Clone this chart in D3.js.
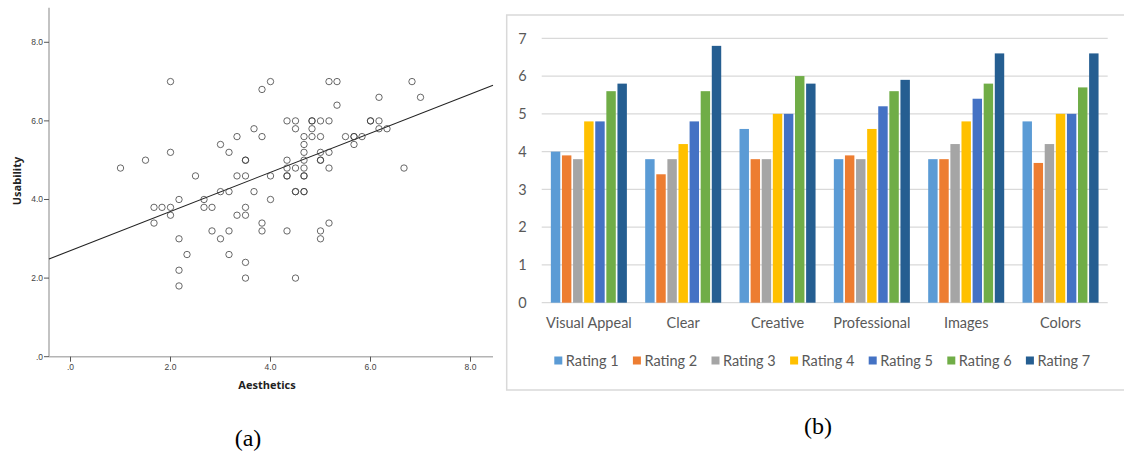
<!DOCTYPE html>
<html>
<head>
<meta charset="utf-8">
<script src="https://cdn.jsdelivr.net/npm/d3@7"></script>
<style>
  body { margin: 0; background: #fff; }
  svg { display: block; }
</style>
</head>
<body>
<div id="chart"></div>
<script>
// ---- data: scatter (a) ----
// aesthetics (x) and usability (y) per participant
var aesthetics = [
  2.0, 4.0, 5.17, 5.33, 6.83,
  3.83,
  6.17, 7.0,
  5.33,
  4.33, 4.5, 4.83, 4.83, 5.0, 5.17, 6.0, 6.0, 6.17,
  3.67, 4.5, 4.83, 6.17, 6.33,
  3.33, 3.83, 4.67, 4.83, 5.0, 5.5, 5.67, 5.67, 5.83,
  3.0, 4.67, 5.67,
  2.0, 3.17, 4.67, 5.0, 5.17,
  1.5, 3.5, 3.5, 4.33, 4.67, 5.0, 5.0,
  1.0, 4.33, 4.5, 4.67, 5.17, 6.67,
  2.5, 3.33, 3.5, 4.0, 4.33, 4.33, 4.67, 4.67,
  3.0, 3.17, 3.67, 4.5, 4.5, 4.67, 4.67,
  2.17, 2.67, 4.0,
  1.67, 1.83, 2.0, 2.67, 2.83, 3.5,
  2.0, 3.33, 3.5,
  1.67, 3.83, 5.17,
  2.83, 3.17, 3.83, 4.33, 5.0,
  2.17, 3.0, 5.0,
  2.33, 3.17,
  3.5,
  2.17,
  3.5, 4.5,
  2.17
];
var usability = [
  7.0, 7.0, 7.0, 7.0, 7.0,
  6.8,
  6.6, 6.6,
  6.4,
  6.0, 6.0, 6.0, 6.0, 6.0, 6.0, 6.0, 6.0, 6.0,
  5.8, 5.8, 5.8, 5.8, 5.8,
  5.6, 5.6, 5.6, 5.6, 5.6, 5.6, 5.6, 5.6, 5.6,
  5.4, 5.4, 5.4,
  5.2, 5.2, 5.2, 5.2, 5.2,
  5.0, 5.0, 5.0, 5.0, 5.0, 5.0, 5.0,
  4.8, 4.8, 4.8, 4.8, 4.8, 4.8,
  4.6, 4.6, 4.6, 4.6, 4.6, 4.6, 4.6, 4.6,
  4.2, 4.2, 4.2, 4.2, 4.2, 4.2, 4.2,
  4.0, 4.0, 4.0,
  3.8, 3.8, 3.8, 3.8, 3.8, 3.8,
  3.6, 3.6, 3.6,
  3.4, 3.4, 3.4,
  3.2, 3.2, 3.2, 3.2, 3.2,
  3.0, 3.0, 3.0,
  2.6, 2.6,
  2.4,
  2.2,
  2.0, 2.0,
  1.8
];
var fitLine = { intercept: 2.70, slope: 0.498 };
var scatterTicks = [0, 2, 4, 6, 8];

// ---- data: bar chart (b) ----
var categories = ["Visual Appeal", "Clear", "Creative", "Professional", "Images", "Colors"];
var ratings = ["Rating 1", "Rating 2", "Rating 3", "Rating 4", "Rating 5", "Rating 6", "Rating 7"];
var rating1 = [4.0, 3.8, 4.6, 3.8, 3.8, 4.8];
var rating2 = [3.9, 3.4, 3.8, 3.9, 3.8, 3.7];
var rating3 = [3.8, 3.8, 3.8, 3.8, 4.2, 4.2];
var rating4 = [4.8, 4.2, 5.0, 4.6, 4.8, 5.0];
var rating5 = [4.8, 4.8, 5.0, 5.2, 5.4, 5.0];
var rating6 = [5.6, 5.6, 6.0, 5.6, 5.8, 5.7];
var rating7 = [5.8, 6.8, 5.8, 5.9, 6.6, 6.6];
var barTicks = [0, 1, 2, 3, 4, 5, 6, 7];

var colors = ["#5b9bd5", "#ed7d31", "#a5a5a5", "#ffc000", "#4472c4", "#70ad47", "#255e91"];
var series = [rating1, rating2, rating3, rating4, rating5, rating6, rating7];

var svg = d3.select("#chart").append("svg")
  .attr("width", 1124)
  .attr("height", 452);

// =============== (a) scatter ===============
var xS = d3.scaleLinear().domain([-0.43, 8.45]).range([49, 493]);
var yS = d3.scaleLinear().domain([0, 8.88]).range([356.7, 7.7]);

function fmt(v) {
  var s = d3.format(".1f")(v);
  return s.replace(/^0\./, ".");
}

var sc = svg.append("g");

// axis lines
sc.append("line")
  .attr("x1", xS(-0.43)).attr("x2", xS(8.45))
  .attr("y1", yS(0)).attr("y2", yS(0))
  .attr("stroke", "#b4b4b4").attr("stroke-width", 1.6);
sc.append("line")
  .attr("x1", xS(-0.43)).attr("x2", xS(-0.43))
  .attr("y1", yS(0)).attr("y2", yS(8.88))
  .attr("stroke", "#b4b4b4").attr("stroke-width", 1.6);

// x ticks
sc.selectAll(".xt").data(scatterTicks).enter().append("line")
  .attr("x1", d => xS(d)).attr("x2", d => xS(d))
  .attr("y1", yS(0)).attr("y2", yS(0) + 5)
  .attr("stroke", "#555").attr("stroke-width", 1);
sc.selectAll(".xl").data(scatterTicks).enter().append("text")
  .attr("x", d => xS(d)).attr("y", yS(0) + 13)
  .attr("text-anchor", "middle")
  .attr("font-family", "Liberation Sans, Arial, sans-serif")
  .attr("font-size", "8.5px").attr("fill", "#444")
  .text(d => fmt(d));

// y ticks
sc.selectAll(".yt").data(scatterTicks).enter().append("line")
  .attr("x1", xS(-0.43) - 5).attr("x2", xS(-0.43))
  .attr("y1", d => yS(d)).attr("y2", d => yS(d))
  .attr("stroke", "#555").attr("stroke-width", 1);
sc.selectAll(".yl").data(scatterTicks).enter().append("text")
  .attr("x", xS(-0.43) - 6).attr("y", d => yS(d))
  .attr("dy", "0.35em")
  .attr("text-anchor", "end")
  .attr("font-family", "Liberation Sans, Arial, sans-serif")
  .attr("font-size", "8.5px").attr("fill", "#444")
  .text(d => fmt(d));

// fit line
sc.append("line")
  .attr("x1", xS(-0.43)).attr("y1", yS(fitLine.intercept + fitLine.slope * -0.43))
  .attr("x2", xS(8.45)).attr("y2", yS(fitLine.intercept + fitLine.slope * 8.45))
  .attr("stroke", "#222").attr("stroke-width", 1.1);

// points
sc.selectAll("circle").data(d3.range(aesthetics.length)).enter().append("circle")
  .attr("cx", i => xS(aesthetics[i]))
  .attr("cy", i => yS(usability[i]))
  .attr("r", 3.2)
  .attr("fill", "none")
  .attr("stroke", "#3a3a3a")
  .attr("stroke-opacity", 0.85)
  .attr("stroke-width", 0.9);

// axis titles
sc.append("text")
  .attr("x", 267).attr("y", 389)
  .attr("text-anchor", "middle")
  .attr("font-family", "Open Sans, sans-serif")
  .attr("font-weight", "bold")
  .attr("font-size", "11px").attr("fill", "#222")
  .text("Aesthetics");
sc.append("text")
  .attr("transform", "translate(21,181) rotate(-90)")
  .attr("text-anchor", "middle")
  .attr("font-family", "Open Sans, sans-serif")
  .attr("font-weight", "bold")
  .attr("font-size", "11px").attr("fill", "#222")
  .text("Usability");

svg.append("text")
  .attr("x", 248).attr("y", 446)
  .attr("text-anchor", "middle")
  .attr("font-family", "Liberation Serif, Times New Roman, serif")
  .attr("font-size", "24px").attr("fill", "#000")
  .text("(a)");

// =============== (b) bar chart ===============
var bc = svg.append("g");

bc.append("rect")
  .attr("x", 506.7).attr("y", 15)
  .attr("width", 640).attr("height", 375)
  .attr("fill", "none")
  .attr("stroke", "#d9d9d9").attr("stroke-width", 1.5);

var x0 = d3.scaleBand().domain(categories).range([541.7, 1107.7])
  .paddingInner(0.194).paddingOuter(0.097);
var x1 = d3.scaleBand().domain(ratings).range([0, x0.bandwidth()])
  .paddingInner(0.15).paddingOuter(0);
var yB = d3.scaleLinear().domain([0, 7]).range([302.7, 38.3]);

// gridlines
bc.selectAll(".grid").data(barTicks).enter().append("line")
  .attr("x1", 541.7).attr("x2", 1107.7)
  .attr("y1", d => yB(d)).attr("y2", d => yB(d))
  .attr("stroke", "#d9d9d9").attr("stroke-width", 1.2);

bc.selectAll(".ylab").data(barTicks).enter().append("text")
  .attr("x", 522.5).attr("y", d => yB(d))
  .attr("dy", "0.36em")
  .attr("text-anchor", "middle")
  .attr("font-family", "Lato, sans-serif")
  .attr("font-size", "14.5px").attr("fill", "#595959")
  .text(d => d);

var groups = bc.selectAll(".grp").data(categories).enter().append("g")
  .attr("transform", d => "translate(" + x0(d) + ",0)");

groups.selectAll("rect")
  .data((c, ci) => ratings.map((r, ri) => ({ r: r, ri: ri, v: series[ri][ci] })))
  .enter().append("rect")
  .attr("x", d => x1(d.r))
  .attr("width", x1.bandwidth())
  .attr("y", d => yB(d.v))
  .attr("height", d => yB(0) - yB(d.v))
  .attr("fill", d => colors[d.ri]);

bc.selectAll(".xlab").data(categories).enter().append("text")
  .attr("x", d => x0(d) + x0.bandwidth() / 2)
  .attr("y", 328)
  .attr("text-anchor", "middle")
  .attr("font-family", "Lato, sans-serif")
  .attr("font-size", "14.5px").attr("fill", "#595959")
  .text(d => d);

// legend
var leg = bc.selectAll(".leg").data(ratings).enter().append("g")
  .attr("transform", (d, i) => "translate(" + (554.3 + i * 78.6) + ",356.5)");
leg.append("rect")
  .attr("width", 8).attr("height", 8)
  .attr("fill", (d, i) => colors[i]);
leg.append("text")
  .attr("x", 11.5).attr("y", 9.5)
  .attr("font-family", "Lato, sans-serif")
  .attr("font-size", "14.5px").attr("fill", "#595959")
  .text(d => d);

svg.append("text")
  .attr("x", 818).attr("y", 434)
  .attr("text-anchor", "middle")
  .attr("font-family", "Liberation Serif, Times New Roman, serif")
  .attr("font-size", "24px").attr("fill", "#000")
  .text("(b)");
</script>
</body>
</html>
